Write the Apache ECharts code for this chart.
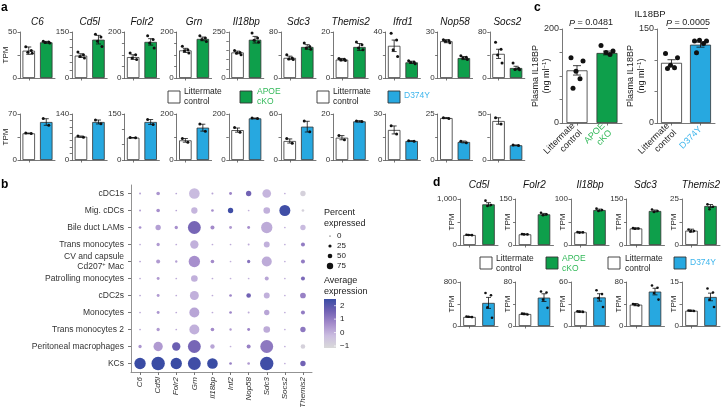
<!DOCTYPE html>
<html><head><meta charset="utf-8">
<script src="https://cdn.jsdelivr.net/npm/echarts@6/dist/echarts.min.js"></script>
<style>html,body{margin:0;padding:0;background:#fff}#c{width:722px;height:411px}</style>
</head><body><div id="c"></div>
<script>
// ---------------- Panel a data ----------------
const genesA = ['C6','Cd5l','Folr2','Grn','Il18bp','Sdc3','Themis2','Ifrd1','Nop58','Socs2'];
// top row: littermate control vs APOE cKO
const aTopMax = [50,150,200,200,250,80,20,40,30,80];
const aTopTick = [25,25,50,50,50,40,10,20,15,40];
const aTopCtrl = [29.7,73,91,120,139,35,8,28,24,42];
const aTopCtrlErr = [4,6,10,9,7,3,0.5,5,1,8];
const aTopCko = [38.8,125,157,170,208,54,13.5,13.6,13,17.4];
const aTopCkoErr = [1,14,14,8,18,4,1.5,1,1,3];
const aTopCtrlDots = [[34,30,28,27],[85,76,70,65],[109,101,87,80],[138,123,118,109],[150,139,135,127],[40.6,35,33,32],[8.5,8.2,7.8,7.6],[39,33,24.6,18.8],[25,24.5,24,23],[62,50,40,26]];
const aTopCkoDots = [[40,39,38.5,38],[143,134,120,103],[184,167,152,130],[184,174,167,159],[245,217,205,194],[61,55,52,50],[15.6,14.5,13,12.3],[15,14,13.5,12.5],[14.5,13.5,13,12],[26,17,15,14.5]];
// bottom row: littermate control vs D374Y
const aBotMax = [70,140,150,200,200,60,20,30,25,50];
const aBotTick = [35,20,50,100,100,30,10,15,12.5,25];
const aBotCtrl = [40.6,71,72.8,85.5,130,24.8,9.7,19.6,22.8,42.4];
const aBotCtrlErr = [0.5,2,0.5,8,9,2.7,0.9,2.6,0.3,3.5];
const aBotMut = [57.8,115.7,124,140.6,181,43.5,16.8,12.4,9.8,16];
const aBotMutErr = [5,6,8,15,1.5,7,0.3,0.2,0.5,0.4];
const aBotCtrlDots = [[41,40.5],[73,69],[73,72.5],[94,77],[141,121],[28,22],[10.6,8.8],[22.3,17],[23,22.6],[46,39]];
const aBotMutDots = [[63,53],[122,110],[132,116],[156,125],[183,180],[51,37],[17,16.7],[12.5,12.3],[10.2,9.4],[16.3,15.8]];

// ---------------- Panel b data ----------------
const cellTypes = ['cDC1s','Mig. cDCs','Bile duct LAMs','Trans monocytes','CV and capsule\nCd207+ Mac','Patrolling monocytes','cDC2s','Monocytes','Trans monocytes 2','Peritoneal macrophages','KCs'];
const genesB = ['C6','Cd5l','Folr2','Grn','Il18bp','Inf2','Nop58','Sdc3','Socs2','Themis2'];
const pctB = [
  [4,18,2,76,4,12,32,60,2,32],
  [4,18,2,40,10,32,2,43,79,10],
  [10,32,15,95,21,12,12,82,2,32],
  [2,15,2,57,2,2,4,37,2,21],
  [2,21,7,82,18,2,15,71,2,21],
  [2,12,2,43,2,2,2,21,2,21],
  [2,12,2,62,2,10,26,37,2,35],
  [2,12,2,71,2,10,4,32,2,21],
  [2,15,2,71,18,7,12,43,2,32],
  [15,65,57,95,24,2,21,95,2,26],
  [82,99,82,95,76,10,10,99,2,32]
];
const avgB = [
  [0.2,0.5,0.2,-0.2,0.2,0.8,1.6,-0.1,0,-0.9],
  [0.3,0.6,0.2,-0.1,0.6,2.4,0,0,2.4,-0.9],
  [0.6,0.3,0.6,1.5,0.7,0.4,0.6,0.1,0,-0.2],
  [0.1,0.4,0.1,0,0.1,0.1,0.1,0,0,1.0],
  [0.3,0.4,0.3,0.6,0.7,0,1.2,0.1,0,1.0],
  [0.1,0.4,0.1,0,0.1,0,0,0.2,0,1.4],
  [0.2,0.4,0.1,0,0.1,0.8,1.6,0,0,0.9],
  [0.1,0.5,0.1,0.2,0.1,0.8,0.1,0.2,0,1.0],
  [0.2,0.4,0.1,0,0.7,0.4,0.8,0.1,0,1.1],
  [0.5,0.4,1.7,1.5,0.2,0,0.9,1.1,0,-0.9],
  [2.5,2.5,2.5,2.4,2.5,0.9,0.4,2.4,0,1.6]
];
const sizeLegendVals = [0,25,50,75];
const colorLegendVals = [2,1,0,-1];
const colorMin = -1.15, colorMax = 2.5;
const colorStops = ['#d9d9d9','#cbbde0','#a48bcb','#7262b4','#3a4ca4'];

// ---------------- Panel c data ----------------
const cMax = [200,150];
const cMeans1 = [112,149];
const cErr1 = [10,4];
const cDots1 = [[139,132,110,94,74],[165,153,150,146]];
const cP1 = '0.0481';
const cMeans2 = [96,125];
const cErr2 = [5,4];
const cDots2 = [[111,104,92,88,87],[131,131,132,127,112]];
const cP2 = '0.0005';

// ---------------- Panel d data ----------------
const genesD = ['Cd5l','Folr2','Il18bp','Sdc3','Themis2'];
const dTopMax = [1000,150,100,150,25];
const dTopCtrl = [217,34.8,27.5,54,7.8];
const dTopCtrlErr = [10,1,1,2,0.8];
const dTopCko = [884,100,76,111,21.2];
const dTopCkoErr = [35,3,2,3,0.8];
const dTopCtrlDots = [[222,214,216],[35.5,34.5,34.5],[28,27.5,27],[55,54,53],[8.4,7.6,7.4]];
const dTopCkoDots = [[964,870,848],[105,100,97],[79,76,74],[116,111,108],[22.1,20.8,19.4]];
const dBotMax = [800,80,60,80,15];
const dBotCtrl = [165,21.8,19.6,38.8,5.2];
const dBotCtrlErr = [8,1.2,0.8,2,0.2];
const dBotMut = [420,51.6,39,62.6,9.9];
const dBotMutErr = [100,7,5,6,1.3];
const dBotCtrlDots = [[172,162,168],[22.5,21,22],[20,19.2,19.6],[40,37.5,39],[5.3,5.1,5.2]];
const dBotMutDots = [[600,560,340,150],[62.6,61,48,33],[48.7,43.5,38,26],[73.6,69.5,60,48],[12.8,11.4,9,6.5]];

// ---------------- styling ----------------
const FONT = "'Liberation Sans', Arial, Helvetica, sans-serif";
const C_GREEN = '#0e9f4b', C_BLUE = '#27a8e0', C_WHITE = '#ffffff';
const T_GREEN = '#33b95a', T_BLUE = '#3db5ec';
const AX = '#555';
const JIT_A = [-3,2.5,-1,3.5,0.5];
const JIT_C = [-6,6,-1,3,-4,8];

const grids = [], xAxes = [], yAxes = [], series = [], graphics = [];

function fmtNum(v){ return v >= 1000 ? v.toLocaleString('en-US') : String(v); }

function errBar(cap){
  return function(params, api){
    const x = api.value(0), m = api.value(1), e = api.value(2);
    const p1 = api.coord([x, m + e]), p2 = api.coord([x, m - e]);
    const st = {stroke:'#111', lineWidth:0.8};
    return {type:'group', children:[
      {type:'line', shape:{x1:p1[0],y1:p1[1],x2:p2[0],y2:p2[1]}, style:st},
      {type:'line', shape:{x1:p1[0]-cap,y1:p1[1],x2:p1[0]+cap,y2:p1[1]}, style:st},
      {type:'line', shape:{x1:p2[0]-cap,y1:p2[1],x2:p2[0]+cap,y2:p2[1]}, style:st}
    ]};
  };
}

function barPanel(o){
  const gi = grids.length;
  grids.push({left:o.left, top:o.top, width:o.width, height:o.height});
  xAxes.push({gridIndex:gi, type:'category', data:o.cats, boundaryGap:true,
    axisLine:{show:true, lineStyle:{color:AX, width:0.8}},
    axisTick:{show:true, alignWithLabel:true, length:2.5, lineStyle:{color:AX, width:0.8}},
    axisLabel: o.xLabel || {show:false}, splitLine:{show:false}});
  yAxes.push({gridIndex:gi, type:'value', min:0, max:o.max, interval:o.tick,
    name:o.yName || '', nameLocation:'middle', nameGap:o.nameGap || 10, nameRotate:90,
    nameMoveOverlap:false,
    nameTextStyle:Object.assign({fontSize:8, color:'#222', fontFamily:FONT}, o.nameStyle || {}),
    axisLine:{show:true, lineStyle:{color:AX, width:0.8}},
    axisTick:{show:true, length:2.5, lineStyle:{color:AX, width:0.8}},
    splitLine:{show:false},
    axisLabel:{fontSize:o.fs || 8, color:'#333', margin:3, fontFamily:FONT,
      formatter:function(v){ return (v === 0 || Math.abs(v - o.max) < 1e-6) ? fmtNum(v) : ''; }}});
  series.push({type:'bar', xAxisIndex:gi, yAxisIndex:gi, barWidth:o.barWidth, silent:true, animation:false,
    data:o.means.map((m,i)=>({value:m, itemStyle:{color:o.colors[i], borderColor:'#333', borderWidth:0.8}}))});
  series.push({type:'custom', xAxisIndex:gi, yAxisIndex:gi, silent:true, z:5, animation:false,
    data:o.means.map((m,i)=>[i, m, o.errs[i]]), renderItem:errBar(o.cap)});
  const dd = [];
  o.dots.forEach((arr,i)=>arr.forEach((v,k)=>dd.push({value:[i, v], symbolOffset:[o.jit[k % o.jit.length], 0]})));
  series.push({type:'scatter', xAxisIndex:gi, yAxisIndex:gi, silent:true, z:6, animation:false,
    symbolSize:o.dot, itemStyle:{color:'#111', opacity:1}, data:dd});
  if (o.title) {
    graphics.push({type:'text', x:o.left + o.width/2, y:o.titleY,
      style:{text:o.title, fontSize:o.titleFs || 10, fontStyle:'italic', fontFamily:FONT, fill:'#111', align:'center', verticalAlign:'middle'}});
  }
}

function txt(x, y, s, extra){
  graphics.push({type:'text', x:x, y:y, style:Object.assign({text:s, fontSize:8.5, fontFamily:FONT, fill:'#222', align:'left', verticalAlign:'middle'}, extra || {})});
}
function box(x, y, w, h, fill){
  graphics.push({type:'rect', shape:{x:x, y:y, width:w, height:h}, style:{fill:fill, stroke:'#333', lineWidth:0.9}});
}

// ---------------- build panel a ----------------
for (let i = 0; i < genesA.length; i++) {
  const left = 20 + 52.2 * i;
  barPanel({left:left, top:32, width:35, height:46, cats:['ctrl','cko'], max:aTopMax[i], tick:aTopTick[i],
    means:[aTopCtrl[i], aTopCko[i]], errs:[aTopCtrlErr[i], aTopCkoErr[i]], dots:[aTopCtrlDots[i], aTopCkoDots[i]],
    colors:[C_WHITE, C_GREEN], barWidth:12.5, cap:2.5, dot:3, jit:JIT_A,
    title:genesA[i], titleY:22, yName: i === 0 ? 'TPM' : '', nameGap:10});
  barPanel({left:left, top:114, width:35, height:46, cats:['ctrl','mut'], max:aBotMax[i], tick:aBotTick[i],
    means:[aBotCtrl[i], aBotMut[i]], errs:[aBotCtrlErr[i], aBotMutErr[i]], dots:[aBotCtrlDots[i], aBotMutDots[i]],
    colors:[C_WHITE, C_BLUE], barWidth:12.5, cap:2.5, dot:3, jit:JIT_A,
    yName: i === 0 ? 'TPM' : '', nameGap:10});
}
// legend a
box(168, 91, 12, 12, '#fff'); txt(184, 92, 'Littermate'); txt(184, 101.5, 'control');
box(240, 91, 12, 12, C_GREEN); txt(257, 92, 'APOE', {fill:T_GREEN}); txt(257, 101.5, 'cKO', {fill:T_GREEN});
box(317, 91, 12, 12, '#fff'); txt(333, 92, 'Littermate'); txt(333, 101.5, 'control');
box(388, 91, 12, 12, C_BLUE); txt(404, 96, 'D374Y', {fill:T_BLUE});

// ---------------- build panel c ----------------
const cXLabel = function(second, col){
  return {show:true, rotate:45, interval:0, margin:5, fontFamily:FONT,
    formatter:function(v, i){ return i === 0 ? '{k|Littermate}\n{k|control}' : second; },
    rich:{k:{color:'#222', fontSize:9, lineHeight:10, fontFamily:FONT}, g:{color:col, fontSize:9, lineHeight:10, fontFamily:FONT}}};
};
const cName = {fontSize:9, lineHeight:11, color:'#222', rich:{sup:{fontSize:6, verticalAlign:'top', lineHeight:8, fontFamily:FONT, color:'#222'}}};
barPanel({left:562, top:29, width:60, height:94, cats:['ctrl','cko'], max:cMax[0], tick:50,
  means:cMeans1, errs:cErr1, dots:cDots1, colors:[C_WHITE, C_GREEN], barWidth:21, cap:4, dot:5, jit:JIT_C,
  yName:'Plasma IL18BP\n(ng ml{sup|−1})', nameGap:10, nameStyle:cName, fs:9,
  xLabel:cXLabel('{g|APOE}\n{g|cKO}', T_GREEN)});
barPanel({left:657, top:29, width:58, height:94, cats:['ctrl','mut'], max:cMax[1], tick:50,
  means:cMeans2, errs:cErr2, dots:cDots2, colors:[C_WHITE, C_BLUE], barWidth:21, cap:4, dot:5, jit:JIT_C,
  yName:'Plasma IL18BP\n(ng ml{sup|−1})', nameGap:10, nameStyle:cName, fs:9,
  xLabel:cXLabel('{g|D374Y}', T_BLUE)});
txt(650, 14, 'IL18BP', {align:'center', fontSize:9.5});
txt(591, 23, '{i|P} = ' + cP1, {align:'center', fontSize:9, rich:{i:{fontStyle:'italic', fontSize:9, fontFamily:FONT, fill:'#222'}}});
graphics.push({type:'line', shape:{x1:574, y1:28.5, x2:608, y2:28.5}, style:{stroke:'#333', lineWidth:0.8}});
txt(688, 23, '{i|P} = ' + cP2, {align:'center', fontSize:9, rich:{i:{fontStyle:'italic', fontSize:9, fontFamily:FONT, fill:'#222'}}});
graphics.push({type:'line', shape:{x1:668, y1:28.5, x2:708, y2:28.5}, style:{stroke:'#333', lineWidth:0.8}});

// ---------------- build panel d ----------------
for (let i = 0; i < genesD.length; i++) {
  const left = 460 + 55.5 * i;
  barPanel({left:left, top:199, width:38, height:46, cats:['ctrl','cko'], max:dTopMax[i], tick:dTopMax[i]/2,
    means:[dTopCtrl[i], dTopCko[i]], errs:[dTopCtrlErr[i], dTopCkoErr[i]], dots:[dTopCtrlDots[i], dTopCkoDots[i]],
    colors:[C_WHITE, C_GREEN], barWidth:12.5, cap:2.5, dot:2.6, jit:JIT_A,
    title:genesD[i], titleY:185, yName:'TPM', nameGap:4});
  barPanel({left:left, top:282, width:38, height:44, cats:['ctrl','mut'], max:dBotMax[i], tick:dBotMax[i]/2,
    means:[dBotCtrl[i], dBotMut[i]], errs:[dBotCtrlErr[i], dBotMutErr[i]], dots:[dBotCtrlDots[i], dBotMutDots[i]],
    colors:[C_WHITE, C_BLUE], barWidth:12.5, cap:2.5, dot:2.6, jit:JIT_A,
    yName:'TPM', nameGap:4});
}
box(480, 257, 12, 12, '#fff'); txt(496, 259, 'Littermate'); txt(496, 269, 'control');
box(546, 257, 12, 12, C_GREEN); txt(562, 259, 'APOE', {fill:T_GREEN}); txt(562, 269, 'cKO', {fill:T_GREEN});
box(608, 257, 12, 12, '#fff'); txt(625, 259, 'Littermate'); txt(625, 269, 'control');
box(674, 257, 12, 12, C_BLUE); txt(690, 263, 'D374Y', {fill:T_BLUE});

// ---------------- build panel b ----------------
const bGi = grids.length;
grids.push({left:131, top:185, width:181, height:187});
xAxes.push({gridIndex:bGi, type:'category', data:genesB, boundaryGap:true,
  axisLine:{lineStyle:{color:'#777', width:0.8}}, axisTick:{show:true, alignWithLabel:true, length:3, lineStyle:{color:'#777'}},
  axisLabel:{rotate:90, fontSize:8, fontStyle:'italic', color:'#333', margin:5, interval:0, fontFamily:FONT}});
yAxes.push({gridIndex:bGi, type:'category', data:cellTypes, inverse:true, boundaryGap:true,
  axisLine:{lineStyle:{color:'#777', width:0.8}}, axisTick:{show:true, alignWithLabel:true, length:3, lineStyle:{color:'#777'}},
  axisLabel:{fontSize:8.5, color:'#333', margin:7, interval:0, lineHeight:10, fontFamily:FONT,
    formatter:function(v){ return v.replace('Cd207+', 'Cd207{sup|+}'); },
    rich:{sup:{fontSize:5.5, verticalAlign:'top', lineHeight:8, color:'#333', fontFamily:FONT}}}});
const bData = [];
pctB.forEach((row, r)=>row.forEach((p, c)=>bData.push([c, r, p, avgB[r][c]])));
const bSeriesIndex = series.length;
series.push({type:'scatter', xAxisIndex:bGi, yAxisIndex:bGi, silent:true, animation:false,
  itemStyle:{opacity:1},
  symbolSize:function(v){ return 1.5 + v[2] * 0.12; }, data:bData});
// size legend
txt(324, 213, 'Percent', {fontSize:9}); txt(324, 224, 'expressed', {fontSize:9});
const sizeR = [0.6, 1.6, 2.3, 3.2];
sizeLegendVals.forEach((v, k)=>{
  const y = 236 + 10 * k;
  graphics.push({type:'circle', shape:{cx:330, cy:y, r:sizeR[k]}, style:{fill:'#111'}});
  txt(337, y, String(v), {fontSize:8});
});
txt(324, 281, 'Average', {fontSize:9}); txt(324, 292, 'expression', {fontSize:9});
// colour bar
graphics.push({type:'rect', shape:{x:324, y:299, width:12, height:49},
  style:{fill:new echarts.graphic.LinearGradient(0, 0, 0, 1, colorStops.slice().reverse().map((c, k, arr)=>({offset:k/(arr.length-1), color:c})))}});
colorLegendVals.forEach((v)=>{
  const y = 299 + (colorMax - v) / (colorMax - colorMin) * 49;
  graphics.push({type:'line', shape:{x1:334, y1:y, x2:336, y2:y}, style:{stroke:'#fff', lineWidth:0.7}});
  txt(340, y, v < 0 ? '−' + Math.abs(v) : String(v), {fontSize:8});
});

// panel letters
txt(1, 8, 'a', {fontSize:12, fontWeight:'bold', fill:'#000'});
txt(1, 185, 'b', {fontSize:12, fontWeight:'bold', fill:'#000'});
txt(534, 8, 'c', {fontSize:12, fontWeight:'bold', fill:'#000'});
txt(433, 183, 'd', {fontSize:12, fontWeight:'bold', fill:'#000'});

const chart = echarts.init(document.getElementById('c'));
chart.setOption({
  animation:false,
  backgroundColor:'#fff',
  textStyle:{fontFamily:FONT},
  grid:grids, xAxis:xAxes, yAxis:yAxes, series:series,
  visualMap:{type:'continuous', min:colorMin, max:colorMax, dimension:3, seriesIndex:bSeriesIndex,
    inRange:{color:colorStops}, show:false},
  graphic:graphics
});
</script></body></html>
